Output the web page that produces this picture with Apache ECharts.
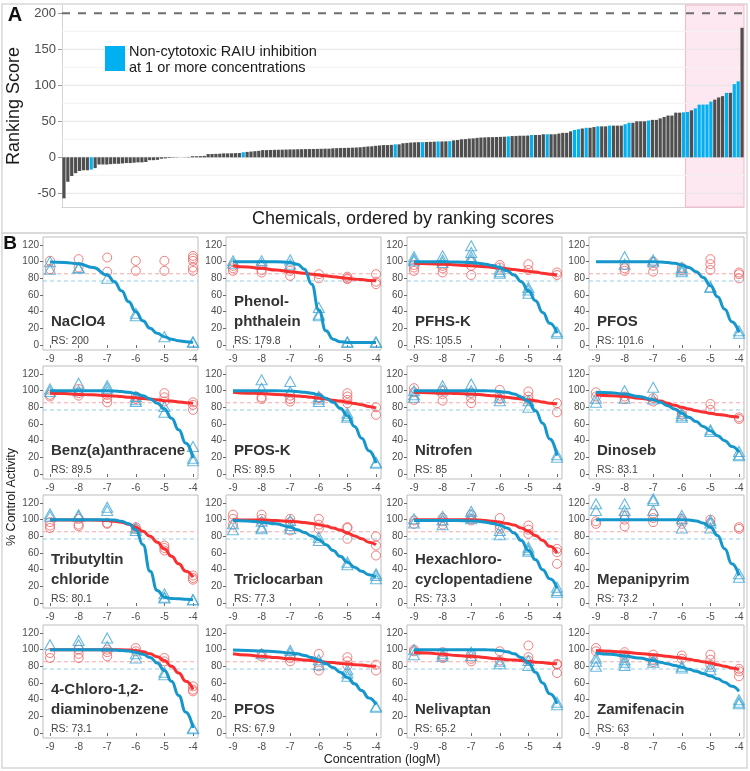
<!DOCTYPE html>
<html><head><meta charset="utf-8">
<script src="https://cdn.jsdelivr.net/npm/echarts@6/dist/echarts.min.js"></script>
<style>html,body{margin:0;padding:0;background:#fff}#c{width:750px;height:771px}</style>
</head><body><div id="c"></div>
<script>
// ================= Panel A data =================
const rankingScores = [
  -57, -34, -26, -22, -19, -18, -18, -17, -15, -10,
  -10, -10, -9.5, -9, -9, -8.5, -8, -8, -7.5, -7,
  -7, -6.5, -4, -4, -3.5, -2, -1.5, -1, -0.5, -0.3,
  0, 0.2, 0.5, 1.5, 1.5, 1.7, 2, 4.5, 4.6, 4.8,
  5, 5.5, 5.5, 5.6, 5.8, 6, 7, 7.5, 8, 8.5,
  9, 10, 10, 10.2, 10.4, 10.5, 10.6, 10.8, 11, 11,
  11.2, 11.3, 11.4, 11.5, 11.6, 11.7, 11.8, 12, 12, 12.5,
  12.7, 13, 13, 13.2, 13.4, 13.6, 14, 14.5, 15, 15.3,
  16, 16.5, 17, 17, 17.3, 18, 18, 19.5, 20, 20.5,
  20.8, 21, 21, 21.3, 21.5, 21.7, 22, 22, 22.2, 22.4,
  23.5, 24, 25, 25.3, 26, 26.3, 27, 27.5, 27.7, 28,
  28, 28.2, 28.4, 28.6, 29, 29.5, 29.7, 30, 30, 30.2,
  31, 31, 31, 32, 32, 32, 32, 33, 34, 34,
  36, 38, 39, 40, 41, 41, 42, 43, 43, 43,
  44, 44, 44, 44, 46, 48, 48, 50, 50, 50,
  51, 52, 52, 54, 56, 58, 58, 62, 62, 62.5,
  63, 65.2, 67.9, 73.1, 73.2, 73.3, 77.3, 80.1, 83.1, 85,
  89.5, 89.5, 101.6, 105.5, 179.8
];
// 1 = non-cytotoxic RAIU inhibition at 1 or more concentrations
const nonCytotoxic = [
  0,0,0,0,0,0,0,1,0,0,
  0,0,0,0,0,0,0,0,0,0,
  0,0,0,0,0,0,0,0,0,0,
  0,0,0,0,0,0,0,0,0,0,
  0,0,0,0,0,0,1,0,0,0,
  0,0,0,0,0,0,0,0,0,0,
  0,0,0,0,0,0,0,0,0,0,
  0,0,0,0,0,0,0,0,0,0,
  0,0,0,0,0,1,0,0,0,0,
  0,0,1,0,0,0,1,0,0,1,
  0,0,0,0,0,0,0,0,0,0,
  0,0,0,0,1,0,0,0,0,0,
  1,0,0,0,1,0,0,0,0,0,
  0,1,1,0,1,0,0,1,0,0,
  1,0,0,0,1,1,0,0,0,0,
  1,0,0,0,0,0,0,0,0,1,
  1,0,1,1,1,1,1,0,0,0,
  1,0,1,1,0
];
const topCount = 15;              // highlighted top-ranked chemicals
const referenceScore = 200;       // NaClO4 reference
const rankTicks = [-50, 0, 50, 100, 150, 200];
const rankGridMajor = [-50, 0, 50, 100, 150];
const rankGridMinor = [-25, 25, 75, 125, 175];

// ================= Panel B data =================
const concentrations = [-9, -8, -7, -6, -5, -4];
const concTicks = [-9, -8, -7, -6, -5, -4];
const activityTicks = [0, 20, 40, 60, 80, 100, 120];
const fitX = [-9, -8.5, -8, -7.5, -7, -6.75, -6.5, -6.25, -6, -5.75, -5.5, -5.25, -5, -4.75, -4.5, -4.25, -4];
const cytoThreshold = 85.5;
const raiuThreshold = 76.8;

const chemNames = [
  ['NaClO4'], ['Phenol-', 'phthalein'], ['PFHS-K'], ['PFOS'],
  ['Benz(a)anthracene'], ['PFOS-K'], ['Nitrofen'], ['Dinoseb'],
  ['Tributyltin', 'chloride'], ['Triclocarban'], ['Hexachloro-', 'cyclopentadiene'], ['Mepanipyrim'],
  ['4-Chloro-1,2-', 'diaminobenzene'], ['PFOS'], ['Nelivaptan'], ['Zamifenacin']
];
const rsValues = [200, 179.8, 105.5, 101.6, 89.5, 89.5, 85, 83.1, 80.1, 77.3, 73.3, 73.2, 73.1, 67.9, 65.2, 63];

// red circles = cytotoxicity, blue triangles = RAIU; one sub-array per concentration
const cytoPts01 = [[101,91],[103,93],[105,88],[101,89],[101,89],[107,104,101,93,89]];
const raiuPts01 = [[100,91],[93,92],[80],[38,35],[10],[4,3]];
const cytoFit01 = null;
const raiuFit01 = [99.5,99,97.5,93,84,76,65,52,40,29,20,14,10,7,5,4,3];

const cytoPts02 = [[95,92,89],[96,90,87],[93,89,83],[85,80],[82,80,79],[85,76,73]];
const raiuPts02 = [[101,98],[101,97],[102,97],[45,37,35],[4,3],[4,3]];
const cytoFit02 = [95,93.5,92,90,88,87,86,85,84,83,82,81,80,79,78.5,77.5,77];
const raiuFit02 = [100,100,100,100,99,97,91,73,42,17,7,4,3,3,3,3,3];

const cytoPts03 = [[96,93,89],[95,92,87],[100,95,84],[96,93],[97,90],[87,84]];
const raiuPts03 = [[106,103,101],[107,102,99],[119,111,106,102],[91,88,86],[69,66,62],[16,14]];
const cytoFit03 = [98,97.5,97,96,95,94.5,94,93,92.5,91.5,90.5,89.5,88.5,87.5,86,85,84];
const raiuFit03 = [100,100,100,99.5,99,98,97,95.5,93,89,84,76,65,53,39,26,14];

const cytoPts04 = [[],[96,92,89],[100,95,88],[93,90],[103,97,90],[87,85,80]];
const raiuPts04 = [[],[106,97],[102,100],[93,90,88],[70,69],[17,14]];
const cytoFit04 = null;
const raiuFit04 = [100,100,100,100,100,99.5,99,98,96,93,88,81,71,58,43,28,15];

const cytoPts05 = [[95,93],[102,97,94],[95,91,86],[93,90],[97,92,87],[86,83,77]];
const raiuPts05 = [[102,99],[109,100],[106,103,99],[93,89,87],[81,74],[33,19,16]];
const cytoFit05 = [97,96.5,95.5,95,94,93.5,93,92,91.5,90.5,90,89,88,87.5,86.5,85.5,85];
const raiuFit05 = [100,100,100,100,100,99.5,99,98,96.5,94,90,85,78,67,53,37,19];

const cytoPts06 = [[],[92,90],[94,90,87],[92,91],[97,93,89,85],[80,71]];
const raiuPts06 = [[],[113,103],[111,99],[93,90,87],[73,70,68],[14,13]];
const cytoFit06 = [98,97,96.5,95.5,94.5,93.5,93,92,91,90,88.5,87.5,86,84.5,83,81,79];
const raiuFit06 = [100,100,100,100,99.5,99,98,97,95,91,86,79,70,57,43,28,13];

const cytoPts07 = [[103,98,89],[100,96,88],[97,91,85],[101,94,90],[99,93,89],[85,74]];
const raiuPts07 = [[100,95,92],[106,101],[108,100],[92,88],[88,80],[23,20]];
const cytoFit07 = [98,97.5,97,96.5,96,95.5,94.5,94,93,92,91,90,89,88,86.5,85,84];
const raiuFit07 = [100,100,100,100,100,100,100,99.5,99,98,96,92.5,87,76,61,42,22];

const cytoPts08 = [[98,93],[93,90],[91,87],[74,71],[84,77],[68,66]];
const raiuPts08 = [[91,86],[100,91],[104,90],[73,70,68],[53,51],[27,23,22]];
const cytoFit08 = [95,94,93,91,89,87.5,85,82.5,80,78,76,74.5,73,71.5,70.5,69,68];
const raiuFit08 = [98,97.5,96,93,89,86,82,78,73,68,63,57,52,46,40,33,26];

const cytoPts09 = [[97,93,90],[101,94,92],[96,95],[91,89],[69,66,63],[33,30,28]];
const raiuPts09 = [[107,104],[106,104],[115,111],[90,87],[11,7,6],[4,4]];
const cytoFit09 = [99.5,99.5,99.5,99.5,99,98,97,94.5,91,86,80,73,65,56,47,38,31];
const raiuFit09 = [100,100,100,100,100,99.5,98,95,88,70,38,15,7,5.5,5,4.5,4];

const cytoPts10 = [[106,101,94],[106,101,97],[101,97,87],[101,94,89],[91,90,77],[80,69,57]];
const raiuPts10 = [[95,88],[98,91,89],[99,93,89],[79,75],[49,46],[35,33,29]];
const cytoFit10 = [100,99.5,99.5,99,98,97.5,96.5,95.5,94,92.5,90,87.5,84,80.5,77,73,70];
const raiuFit10 = [99,98.5,97,95,91,88,84.5,80.5,76,70,63,56,49,43,38,34,31];

const cytoPts11 = [[99,95],[102,98,94],[106,101,99],[102,93,89],[93,88,83],[65,61,47]];
const raiuPts11 = [[101,96],[104,100,94],[110,106,101],[87,82],[67,64,62],[19,15,13]];
const cytoFit11 = [100,100,100,100,100,99.5,99,98,97,95.5,93.5,90,86,81,75,68,60];
const raiuFit11 = [99,99,99,99,98.5,98,97,95.5,93.5,90,84,75,63,52,40,29,18];

const cytoPts12 = [[98,95],[105,100,92],[107,102,97],[101,98,95],[100,96],[91,89]];
const raiuPts12 = [[119,111],[119,111,105],[125,123,111],[105,101,90],[99,96,90],[35,31]];
const cytoFit12 = null;
const raiuFit12 = [100,100,100,100,100,100,100,100,100,99.5,98.5,96,91,81,65,47,33];

const cytoPts13 = [[96,90],[100,95,90],[100,97,92],[102,98],[90,86],[56,52,50]];
const raiuPts13 = [[106],[111,106],[114,104],[95,90],[73,70],[6,5]];
const cytoFit13 = [100,100,100,100,100,100,100,99.5,99,97.5,95,91.5,87,80,72,62,52];
const raiuFit13 = [100,100,100,100,100,99.5,99,98.5,97,94.5,90.5,84,75,62,45,25,6];

const cytoPts14 = [[],[95,92],[90,86],[95,80,75],[91,86,81],[82,75]];
const raiuPts14 = [[],[95],[99,96],[88,82],[76,72,68],[32,31]];
const cytoFit14 = [95,93.5,92,90.5,89,88.5,87.5,87,86,85,84.5,83.5,83,82,81.5,80.5,80];
const raiuFit14 = [99.5,99,98.5,97.5,96,95,93,90.5,87.5,83,78.5,73,66.5,59,51,42,34];

const cytoPts15 = [[100,98],[97,92,90],[95,89,86],[98,87],[105,91,87],[83,82,72]];
const raiuPts15 = [[100,94],[95,92],[97,93],[86,83],[87,81],[37,34]];
const cytoFit15 = [97,96,94.5,93,92,91.5,90.5,89.5,89,88,87.5,87,86,85,84.5,83.5,83];
const raiuFit15 = [100,100,100,100,100,100,100,99.5,99,97.5,95,90.5,84,73,60,47,35];

const cytoPts16 = [[102,98],[97,94,90],[94,88,85],[93,89],[94,88,82],[77,74,68]];
const raiuPts16 = [[90,86,80],[88,85,81],[88,85],[80,78],[80,76],[40,37,35]];
const cytoFit16 = [99,98,97,95.5,94,93,92,91,90,88.5,87,85.5,84,82,80,78,76];
const raiuFit16 = [96,94.5,92.5,90,87,85,83,81,79,76.5,74,71.5,68.5,65,61,56,50];

const panelData = [
  [cytoPts01, raiuPts01, cytoFit01, raiuFit01], [cytoPts02, raiuPts02, cytoFit02, raiuFit02],
  [cytoPts03, raiuPts03, cytoFit03, raiuFit03], [cytoPts04, raiuPts04, cytoFit04, raiuFit04],
  [cytoPts05, raiuPts05, cytoFit05, raiuFit05], [cytoPts06, raiuPts06, cytoFit06, raiuFit06],
  [cytoPts07, raiuPts07, cytoFit07, raiuFit07], [cytoPts08, raiuPts08, cytoFit08, raiuFit08],
  [cytoPts09, raiuPts09, cytoFit09, raiuFit09], [cytoPts10, raiuPts10, cytoFit10, raiuFit10],
  [cytoPts11, raiuPts11, cytoFit11, raiuFit11], [cytoPts12, raiuPts12, cytoFit12, raiuFit12],
  [cytoPts13, raiuPts13, cytoFit13, raiuFit13], [cytoPts14, raiuPts14, cytoFit14, raiuFit14],
  [cytoPts15, raiuPts15, cytoFit15, raiuFit15], [cytoPts16, raiuPts16, cytoFit16, raiuFit16]
];

// ================= Build chart =================
const FONT = '"Liberation Sans", Arial, Helvetica, sans-serif';
const C = {
  bar: '#4f4f4f', barBlue: '#00b0f0', pink: '#fde7f1', pinkEdge: '#f6b6c9',
  red: '#fa2f2f', blue: '#1597cc', redPt: '#ef5f5f', bluePt: '#45a8d3',
  redDash: '#f6a9a9', blueDash: '#94cde6', frame: '#bdbdbd', axisTxt: '#4d4d4d'
};
const grids = [], xAxes = [], yAxes = [], series = [], graphics = [];

// ---- Panel A
const N = rankingScores.length;
grids.push({left: 62, top: 5, width: 682, height: 202, show: false});
xAxes.push({type: 'value', gridIndex: 0, min: 0, max: N,
  axisLabel: {show: false}, axisTick: {show: false}, splitLine: {show: false},
  axisLine: {show: true, onZero: false, lineStyle: {color: '#d3d3d3', width: 1}}});
yAxes.push({type: 'value', gridIndex: 0, min: -69, max: 211.5,
  axisLine: {show: true, lineStyle: {color: '#d3d3d3'}},
  axisTick: {show: true, length: 4, customValues: rankTicks, lineStyle: {color: '#9a9a9a'}},
  axisLabel: {customValues: rankTicks, color: C.axisTxt, fontSize: 13, margin: 6, fontFamily: FONT},
  splitLine: {show: false}});
rankGridMinor.forEach(v => series.push({type: 'line', xAxisIndex: 0, yAxisIndex: 0, z: 1, silent: true,
  showSymbol: false, data: [[0, v], [N, v]], lineStyle: {color: '#f2f2f2', width: 1}}));
rankGridMajor.forEach(v => series.push({type: 'line', xAxisIndex: 0, yAxisIndex: 0, z: 1, silent: true,
  showSymbol: false, data: [[0, v], [N, v]], lineStyle: {color: '#e4e4e4', width: 1}}));
series.push({type: 'line', xAxisIndex: 0, yAxisIndex: 0, z: 2, silent: true, data: [],
  markArea: {silent: true, itemStyle: {color: C.pink, borderColor: C.pinkEdge, borderWidth: 1},
    data: [[{xAxis: N - topCount}, {xAxis: N}]]}});
series.push({type: 'bar', xAxisIndex: 0, yAxisIndex: 0, z: 3, barWidth: 3.2, silent: true,
  data: rankingScores.map((v, i) => ({value: [i + 0.5, v],
    itemStyle: {color: nonCytotoxic[i] ? C.barBlue : C.bar}}))});
series.push({type: 'line', xAxisIndex: 0, yAxisIndex: 0, z: 4, silent: true, showSymbol: false,
  data: [[0, referenceScore], [N, referenceScore]],
  lineStyle: {color: '#6e6e6e', width: 2, type: [8, 8]}});

// ---- Panel B
const colLeft = [43, 226, 407, 589];
const rowTop = [237, 366, 495, 625];
const PW = 155, PH = 113;
const XMIN = -9.245, XMAX = -3.825;
for (let p = 0; p < 16; p++) {
  const r = Math.floor(p / 4), c = p % 4;
  const gi = p + 1;
  const L = colLeft[c], T = rowTop[r];
  grids.push({left: L, top: T, width: PW, height: PH, show: true, borderColor: C.frame, borderWidth: 1, backgroundColor: '#fff'});
  xAxes.push({type: 'value', gridIndex: gi, min: XMIN, max: XMAX,
    axisLine: {show: false}, splitLine: {show: false},
    axisTick: {show: true, length: 3, customValues: concTicks, lineStyle: {color: '#6a6a6a'}},
    axisLabel: {customValues: concTicks, color: C.axisTxt, fontSize: 10, margin: 4, fontFamily: FONT}});
  yAxes.push({type: 'value', gridIndex: gi, min: -6, max: 129.6,
    axisLine: {show: false}, splitLine: {show: false},
    axisTick: {show: true, length: 3, customValues: activityTicks, lineStyle: {color: '#6a6a6a'}},
    axisLabel: {customValues: activityTicks, color: C.axisTxt, fontSize: 10, margin: 4, fontFamily: FONT}});
  const [cPts, rPts, cFit, rFit] = panelData[p];
  series.push({type: 'line', xAxisIndex: gi, yAxisIndex: gi, z: 1, silent: true, showSymbol: false,
    data: [[XMIN, cytoThreshold], [XMAX, cytoThreshold]], lineStyle: {color: C.redDash, width: 1, type: [4, 3]}});
  series.push({type: 'line', xAxisIndex: gi, yAxisIndex: gi, z: 1, silent: true, showSymbol: false,
    data: [[XMIN, raiuThreshold], [XMAX, raiuThreshold]], lineStyle: {color: C.blueDash, width: 1, type: [4, 3]}});
  const cData = [], rData = [];
  concentrations.forEach((x, j) => {
    cPts[j].forEach(v => cData.push([x, v]));
    rPts[j].forEach(v => rData.push([x, v]));
  });
  series.push({type: 'scatter', xAxisIndex: gi, yAxisIndex: gi, z: 2, silent: true, symbol: 'circle', symbolSize: 9,
    data: cData, itemStyle: {color: 'rgba(0,0,0,0)', borderColor: C.redPt, borderWidth: 1}});
  series.push({type: 'scatter', xAxisIndex: gi, yAxisIndex: gi, z: 2, silent: true, symbol: 'triangle', symbolSize: [11, 10],
    data: rData, itemStyle: {color: 'rgba(0,0,0,0)', borderColor: C.bluePt, borderWidth: 1.1}});
  if (cFit) series.push({type: 'line', xAxisIndex: gi, yAxisIndex: gi, z: 4, silent: true, showSymbol: false,
    smooth: 0.5, smoothMonotone: 'x', data: fitX.map((x, k) => [x, cFit[k]]), lineStyle: {color: C.red, width: 3}});
  if (rFit) series.push({type: 'line', xAxisIndex: gi, yAxisIndex: gi, z: 5, silent: true, showSymbol: false,
    smooth: 0.5, smoothMonotone: 'x', data: fitX.map((x, k) => [x, rFit[k]]), lineStyle: {color: C.blue, width: 3}});
  // texts
  const nm = chemNames[p];
  nm.forEach((t, k) => {
    const y = nm.length === 1 ? T + 85 : T + 65 + 20 * k;
    graphics.push({type: 'text', x: L + 8, y: y, z: 10,
      style: {text: t, fill: '#333', font: 'bold 15px ' + FONT, textAlign: 'left', textVerticalAlign: 'middle'}});
  });
  graphics.push({type: 'text', x: L + 8, y: T + 104, z: 10,
    style: {text: 'RS: ' + rsValues[p], fill: '#444', font: '10.5px ' + FONT, textAlign: 'left', textVerticalAlign: 'middle'}});
}

// ---- frames and titles
graphics.push({type: 'rect', z: 0, shape: {x: 2, y: 4, width: 745, height: 229}, style: {fill: 'none', stroke: '#d8d8d8', lineWidth: 1.5}});
graphics.push({type: 'rect', z: 0, shape: {x: 2, y: 233, width: 745, height: 535}, style: {fill: 'none', stroke: '#d8d8d8', lineWidth: 1.5}});
graphics.push({type: 'text', x: 15, y: 15, z: 10, style: {text: 'A', fill: '#111', font: 'bold 20px ' + FONT, textAlign: 'center', textVerticalAlign: 'middle'}});
graphics.push({type: 'text', x: 10, y: 244, z: 10, style: {text: 'B', fill: '#111', font: 'bold 19px ' + FONT, textAlign: 'center', textVerticalAlign: 'middle'}});
graphics.push({type: 'text', x: 14, y: 106, rotation: Math.PI / 2, z: 10, style: {text: 'Ranking Score', fill: '#1a1a1a', font: '18px ' + FONT, textAlign: 'center', textVerticalAlign: 'middle'}});
graphics.push({type: 'text', x: 403, y: 219, z: 10, style: {text: 'Chemicals, ordered by ranking scores', fill: '#1a1a1a', font: '18px ' + FONT, textAlign: 'center', textVerticalAlign: 'middle'}});
graphics.push({type: 'rect', z: 10, shape: {x: 105, y: 46, width: 20, height: 25}, style: {fill: C.barBlue}});
graphics.push({type: 'text', x: 129, y: 52, z: 10, style: {text: 'Non-cytotoxic RAIU inhibition', fill: '#1a1a1a', font: '14.5px ' + FONT, textAlign: 'left', textVerticalAlign: 'middle'}});
graphics.push({type: 'text', x: 129, y: 68, z: 10, style: {text: 'at 1 or more concentrations', fill: '#1a1a1a', font: '14.5px ' + FONT, textAlign: 'left', textVerticalAlign: 'middle'}});
graphics.push({type: 'text', x: 12, y: 497, rotation: Math.PI / 2, z: 10, style: {text: '% Control Activity', fill: '#1a1a1a', font: '12.5px ' + FONT, textAlign: 'center', textVerticalAlign: 'middle'}});
graphics.push({type: 'text', x: 382, y: 760, z: 10, style: {text: 'Concentration (logM)', fill: '#1a1a1a', font: '12.5px ' + FONT, textAlign: 'center', textVerticalAlign: 'middle'}});

const chart = echarts.init(document.getElementById('c'), null, {renderer: 'canvas', width: 750, height: 771});
chart.setOption({
  animation: false,
  backgroundColor: '#ffffff',
  textStyle: {fontFamily: FONT},
  grid: grids, xAxis: xAxes, yAxis: yAxes, series: series,
  graphic: {elements: graphics}
});
</script>
</body></html>
